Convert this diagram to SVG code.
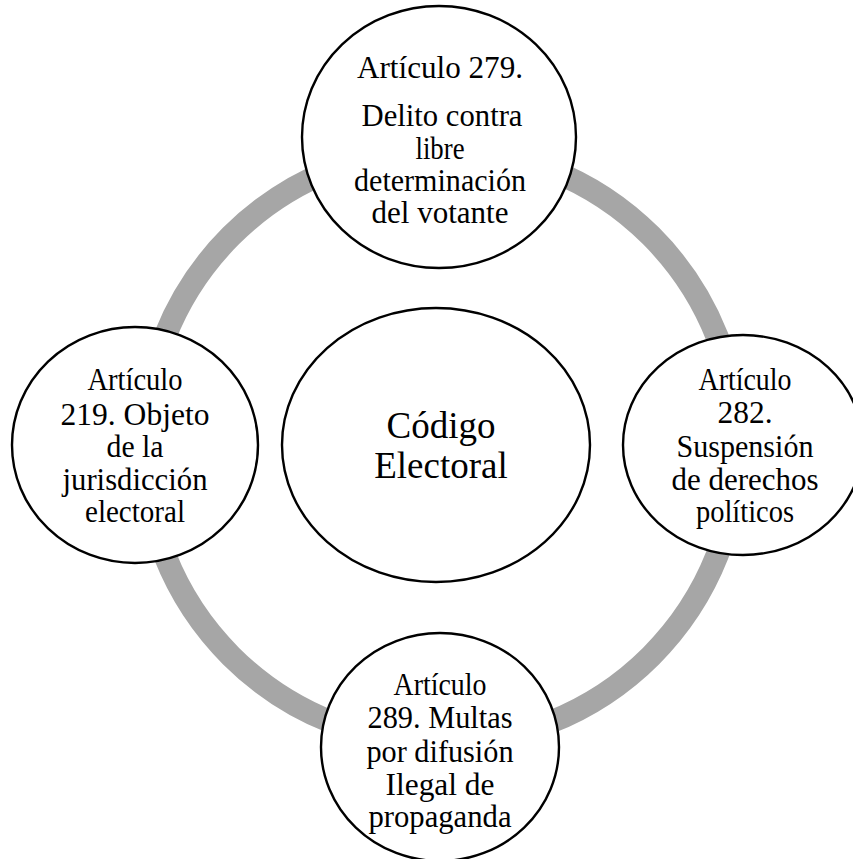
<svg xmlns="http://www.w3.org/2000/svg" width="853" height="859" viewBox="0 0 853 859">
  <style>
    .node { fill: #ffffff; stroke: #000000; stroke-width: 2.4; }
    .ring { fill: none; stroke: #a6a6a6; stroke-width: 23; }
    .lbl { font-family: "Liberation Serif", "Times New Roman", serif; font-size: 31px; fill: #000000; text-anchor: middle; }
    .hub { font-family: "Liberation Serif", "Times New Roman", serif; font-size: 37px; fill: #000000; text-anchor: middle; }
  </style>
  <rect width="853" height="859" fill="#ffffff"/>

  <!-- cycle connector behind the nodes -->
  <g id="connectors">
    <circle class="ring" cx="441" cy="446" r="297"/>
  </g>

  <g id="node-center">
    <ellipse class="node" cx="436" cy="445" rx="154" ry="137"/>
    <text class="hub" x="441" y="438">Código</text>
    <text class="hub" x="441" y="478">Electoral</text>
  </g>

  <g id="node-279">
    <ellipse class="node" cx="439" cy="137" rx="137" ry="131"/>
    <text class="lbl" x="440" y="78" textLength="166" lengthAdjust="spacingAndGlyphs">Artículo  279.</text>
    <text class="lbl" x="442" y="126" textLength="161" lengthAdjust="spacingAndGlyphs">Delito  contra</text>
    <text class="lbl" x="440" y="159" textLength="49" lengthAdjust="spacingAndGlyphs">libre</text>
    <text class="lbl" x="440" y="191" textLength="172" lengthAdjust="spacingAndGlyphs">determinación</text>
    <text class="lbl" x="440" y="223" textLength="137" lengthAdjust="spacingAndGlyphs">del votante</text>
  </g>

  <g id="node-219">
    <ellipse class="node" cx="135" cy="445" rx="123" ry="118"/>
    <text class="lbl" x="135" y="390" textLength="95" lengthAdjust="spacingAndGlyphs">Artículo</text>
    <text class="lbl" x="135" y="425" textLength="149" lengthAdjust="spacingAndGlyphs">219. Objeto</text>
    <text class="lbl" x="135" y="457" textLength="57" lengthAdjust="spacingAndGlyphs">de la</text>
    <text class="lbl" x="135" y="490" textLength="145" lengthAdjust="spacingAndGlyphs">jurisdicción</text>
    <text class="lbl" x="135" y="522" textLength="100" lengthAdjust="spacingAndGlyphs">electoral</text>
  </g>

  <g id="node-282">
    <ellipse class="node" cx="743" cy="445" rx="120" ry="110"/>
    <text class="lbl" x="745" y="390" textLength="93" lengthAdjust="spacingAndGlyphs">Artículo</text>
    <text class="lbl" x="745" y="423" textLength="55" lengthAdjust="spacingAndGlyphs">282.</text>
    <text class="lbl" x="745" y="457" textLength="137" lengthAdjust="spacingAndGlyphs">Suspensión</text>
    <text class="lbl" x="745" y="490" textLength="147" lengthAdjust="spacingAndGlyphs">de derechos</text>
    <text class="lbl" x="745" y="522" textLength="98" lengthAdjust="spacingAndGlyphs">políticos</text>
  </g>

  <g id="node-289">
    <ellipse class="node" cx="440" cy="747" rx="119" ry="114"/>
    <text class="lbl" x="440" y="695" textLength="93" lengthAdjust="spacingAndGlyphs">Artículo</text>
    <text class="lbl" x="440" y="728" textLength="145" lengthAdjust="spacingAndGlyphs">289. Multas</text>
    <text class="lbl" x="440" y="762" textLength="147" lengthAdjust="spacingAndGlyphs">por difusión</text>
    <text class="lbl" x="440" y="795" textLength="109" lengthAdjust="spacingAndGlyphs">Ilegal  de</text>
    <text class="lbl" x="440" y="827" textLength="143" lengthAdjust="spacingAndGlyphs">propaganda</text>
  </g>
</svg>
